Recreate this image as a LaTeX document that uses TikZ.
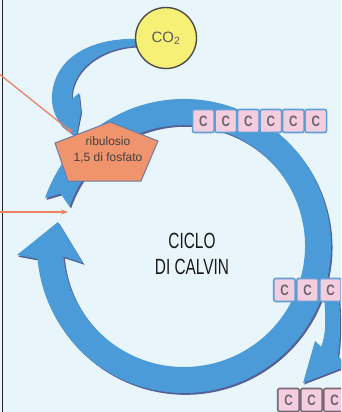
\documentclass[tikz,border=0pt]{standalone}
\usepackage{fontspec}
\setmainfont{Liberation Sans}
\usetikzlibrary{arrows.meta}
\definecolor{bg}{RGB}{232,246,252}
\definecolor{arrowblue}{RGB}{74,155,216}
\definecolor{arrowshade}{RGB}{84,96,150}
\definecolor{pinkc}{RGB}{244,206,222}
\definecolor{boxblue}{RGB}{96,158,214}
\definecolor{boxgray}{RGB}{120,104,118}
\definecolor{penta}{RGB}{240,148,110}
\definecolor{pentaedge}{RGB}{110,122,165}
\definecolor{redarr}{RGB}{240,128,100}
\definecolor{co2y}{RGB}{247,240,118}
\definecolor{ctext}{RGB}{105,100,110}
\newcommand\UpperArc[1]{\fill[#1] ([shift={(199:147)}]184,246) arc[start angle=199,end angle=373,radius=147]
  -- ([shift={(373:121)}]184,246) arc[start angle=373,end angle=199,radius=121]
  -- ([shift={(203:134)}]184,246) -- cycle;}
\newcommand\LowerArc[1]{\fill[#1] ([shift={(12:147)}]184,246) arc[start angle=12,end angle=175,radius=147]
  -- (17,255) -- (58,222) -- (83,263)
  -- ([shift={(175:121)}]184,246) arc[start angle=175,end angle=12,radius=121] -- cycle;}
\newcommand\BranchArrow[1]{\fill[#1] (324,296) .. controls (326,320) and (326,335) .. (321,347)
  -- (315,341) -- (303,383) -- (347,366) -- (338,356)
  .. controls (341,335) and (340,315) .. (339,296) -- cycle;}
\newcommand\CoArrow[1]{\fill[#1] (140,39) .. controls (95,37) and (55,55) .. (52,95)
  .. controls (51,108) and (56,118) .. (62,126) -- (76,137) -- (81,112) -- (79,93) -- (72,99)
  .. controls (70,75) and (95,47) .. (140,46) -- cycle;}
\newcommand\Cl{\scalebox{0.78}[1]{C}}
\begin{document}
\begin{tikzpicture}[x=1pt,y=-1pt,
  cbox/.style={draw=boxblue,line width=1.6pt,fill=pinkc,rounded corners=2pt,
    minimum width=21.5pt,minimum height=23pt,inner sep=0pt,
    font=\bfseries\fontsize{15}{15}\selectfont,text=ctext},
  gbox/.style={cbox,draw=boxgray},
  redline/.style={draw=redarr,line width=1.3pt,-{Stealth[length=7pt,width=5pt]}}]
\useasboundingbox (0,0) rectangle (341,412);
\fill[bg] (0,0) rectangle (341,412);
\clip (0,0) rectangle (341,412);
\coordinate (lt) at (2.5,0);
\coordinate (lb) at (2.5,412);
\draw[line width=1.6pt,black!85] (lt) -- (lb);
% big cycle arrows
\UpperArc{arrowshade,shift={(1.5,1.8)}}
\UpperArc{arrowblue}
\LowerArc{arrowshade,shift={(1.5,1.8)}}
\LowerArc{arrowblue}
\BranchArrow{arrowshade,shift={(1.2,1.5)}}
\BranchArrow{arrowblue}
\CoArrow{arrowshade,shift={(1,1.3)}}
\CoArrow{arrowblue}
% pentagon
\draw[fill=penta,draw=pentaedge,line width=1pt] (110,122) -- (158,141) -- (141,181) -- (68,181) -- (55,143) -- cycle;
\node[font=\fontsize{12}{16.5}\selectfont,text=black!75,align=center] (rubp) at (108,150) {ribulosio\\1,5 di fosfato};
% red arrows
\coordinate (r1s) at (-2,73);
\coordinate (r1e) at (73,133);
\coordinate (r2s) at (0,212);
\coordinate (r2e) at (68,212);
\draw[redline] (r1s) -- (r1e);
\draw[redline] (r2s) -- (r2e);
% CO2
\node[circle,minimum size=61pt,inner sep=0pt,fill=co2y,draw=black!70,line width=1.4pt,
  font=\fontsize{15}{15}\selectfont,text=black!65] (co2) at (166,38) {CO\textsubscript{2}};
% boxes
\node[cbox] (a1) at (203.3,121) {\Cl};
\node[cbox] (a2) at (225.8,121) {\Cl};
\node[cbox] (a3) at (248.3,121) {\Cl};
\node[cbox] (a4) at (270.8,121) {\Cl};
\node[cbox] (a5) at (293.3,121) {\Cl};
\node[cbox] (a6) at (315.8,121) {\Cl};
\node[cbox] (b1) at (284.5,290) {\Cl};
\node[cbox] (b2) at (307.5,290) {\Cl};
\node[cbox] (b3) at (330.5,290) {\Cl};
\node[gbox] (d1) at (288.5,400) {\Cl};
\node[gbox] (d2) at (311.5,400) {\Cl};
\node[gbox] (d3) at (334.5,400) {\Cl};
% title
\node[font=\fontsize{22}{26}\selectfont,text=black!90,align=center] (title) at (192,254)
  {\scalebox{0.7}[1]{CICLO}\\\scalebox{0.7}[1]{DI CALVIN}};
\end{tikzpicture}
\end{document}
